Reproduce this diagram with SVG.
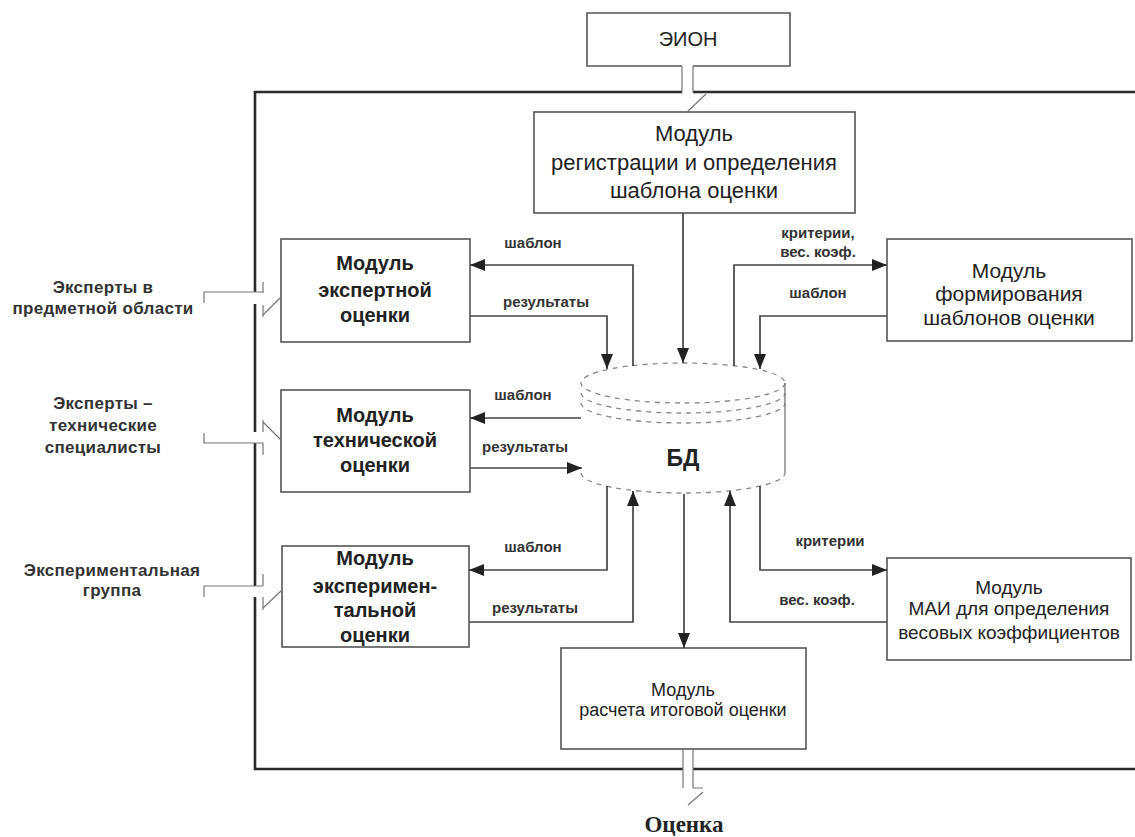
<svg xmlns="http://www.w3.org/2000/svg" width="1135" height="837" viewBox="0 0 1135 837">
<defs>
<marker id="ah" markerUnits="userSpaceOnUse" markerWidth="16" markerHeight="12" refX="15" refY="6" orient="auto">
<path d="M0,0 L15,6 L0,12 z" fill="#222"/>
</marker>
<style>
.box{fill:#fff;stroke:#555;stroke-width:1.6}
.frame{fill:none;stroke:#2a2a2a;stroke-width:2.6}
.thin{fill:none;stroke:#777;stroke-width:1.2}
.con{fill:none;stroke:#444;stroke-width:1.7}
.arr{fill:none;stroke:#444;stroke-width:1.7;marker-end:url(#ah)}
.db{fill:none;stroke:#888;stroke-width:1.3;stroke-dasharray:5 5}
.t{font-family:"Liberation Sans",Arial,sans-serif;fill:#222;text-anchor:middle}
.mb{font-size:20px;font-weight:bold}
.mr{font-size:22px}
.lb{font-size:15px;font-weight:bold;fill:#333}
.side{font-size:17px;font-weight:bold;fill:#333;letter-spacing:0.3px}
</style>
</defs>
<rect width="1135" height="837" fill="#fff"/>

<g id="frame">
<path class="frame" d="M1135,92 H693 M682,92 H255 V292 M255,304 V432 M255,443 V586 M255,597 V769 H683 M693,769 H1135"/>
</g>

<g id="eion">
<path class="box" d="M682,66 H587 V13 H790 V66 H693"/>
<text class="t" x="688" y="46" font-size="20">ЭИОН</text>
</g>

<g id="reg">
<rect class="box" x="534" y="112" width="321" height="101"/>
<text class="t mr" x="694" y="141">Модуль</text>
<text class="t mr" x="694" y="170">регистрации и определения</text>
<text class="t mr" x="694" y="198">шаблона оценки</text>
</g>

<g id="expert">
<rect class="box" x="281" y="239" width="189" height="103"/>
<text class="t mb" x="375" y="270">Модуль</text>
<text class="t mb" x="375" y="297">экспертной</text>
<text class="t mb" x="375" y="322">оценки</text>
</g>

<g id="tech">
<rect class="box" x="281" y="390" width="189" height="102"/>
<text class="t mb" x="375" y="422">Модуль</text>
<text class="t mb" x="375" y="447">технической</text>
<text class="t mb" x="375" y="472">оценки</text>
</g>

<g id="exper">
<rect class="box" x="282" y="546" width="187" height="101"/>
<text class="t mb" x="375" y="565">Модуль</text>
<text class="t mb" x="375" y="593">эксперимен-</text>
<text class="t mb" x="375" y="617">тальной</text>
<text class="t mb" x="375" y="642">оценки</text>
</g>

<g id="templates">
<rect class="box" x="887" y="239" width="245" height="102"/>
<text class="t" x="1009" y="278" font-size="21">Модуль</text>
<text class="t" x="1009" y="301" font-size="21">формирования</text>
<text class="t" x="1009" y="325" font-size="21">шаблонов оценки</text>
</g>

<g id="mai">
<rect class="box" x="887" y="558" width="244" height="102"/>
<text class="t" x="1009" y="594" font-size="19">Модуль</text>
<text class="t" x="1009" y="615" font-size="19">МАИ для определения</text>
<text class="t" x="1009" y="639" font-size="19">весовых коэффициентов</text>
</g>

<g id="final">
<rect class="box" x="561" y="648" width="245" height="101"/>
<text class="t" x="683" y="696" font-size="18">Модуль</text>
<text class="t" x="683" y="716" font-size="18">расчета итоговой оценки</text>
</g>

<g id="db">
<ellipse class="db" cx="683" cy="383" rx="102" ry="20"/>
<path class="db" d="M581,393 A102,20 0 0 0 785,393"/>
<path class="db" d="M581,403 A102,20 0 0 0 785,403"/>
<path class="db" d="M581,473 A102,20 0 0 0 785,473"/>
<path fill="none" stroke="#777" stroke-width="1.3" d="M785,383 V473"/>
<text class="t" x="683" y="466" font-size="23" font-weight="bold">БД</text>
</g>

<g id="labels">
<text class="t side" x="103" y="293">Эксперты в</text>
<text class="t side" x="103" y="314">предметной области</text>
<text class="t side" x="103" y="409">Эксперты –</text>
<text class="t side" x="103" y="431">технические</text>
<text class="t side" x="103" y="453">специалисты</text>
<text class="t side" x="112" y="576">Экспериментальная</text>
<text class="t side" x="112" y="596">группа</text>
<text x="684" y="832" text-anchor="middle" font-size="23" font-weight="bold" fill="#222" style="font-family:'Liberation Serif','Times New Roman',serif">Оценка</text>
</g>

<g id="connectors">
<path class="thin" d="M682,66 V92 M693,66 V92 M706,94 L687,112"/>
<path class="thin" d="M204,303 V292 H263 M263,282 V293 M263,305 V317 M263,315 L281,297"/>
<path class="thin" d="M204,433 V443 H263 M263,420 V432 M263,443 V455 M263,422 L281,440"/>
<path class="thin" d="M204,597 V586 H263 M263,574 V586 M263,597 V610 M263,608 L282,590"/>
<path class="thin" d="M683,749 V788 M693,749 V788 H703 M703,792 L688,805"/>

<path class="arr" d="M683,213 V363"/>
<path class="arr" d="M633,366 V265 H470"/>
<path class="arr" d="M470,316 H607 V369"/>
<path class="arr" d="M734,366 V265 H887"/>
<path class="arr" d="M887,316 H760 V369"/>
<path class="arr" d="M581,418 H470"/>
<path class="arr" d="M470,468 H582"/>
<path class="arr" d="M607,486 V570 H469"/>
<path class="arr" d="M469,622 H633 V491"/>
<path class="arr" d="M684,494 V648"/>
<path class="arr" d="M887,622 H730 V491"/>
<path class="arr" d="M760,486 V570 H887"/>

<text class="t lb" x="533" y="248">шаблон</text>
<text class="t lb" x="546" y="307">результаты</text>
<text class="t lb" x="818" y="238">критерии,</text>
<text class="t lb" x="818" y="257">вес. коэф.</text>
<text class="t lb" x="818" y="298">шаблон</text>
<text class="t lb" x="523" y="400">шаблон</text>
<text class="t lb" x="525" y="452">результаты</text>
<text class="t lb" x="533" y="552">шаблон</text>
<text class="t lb" x="535" y="613">результаты</text>
<text class="t lb" x="830" y="546">критерии</text>
<text class="t lb" x="817" y="605">вес. коэф.</text>
</g>
</svg>
